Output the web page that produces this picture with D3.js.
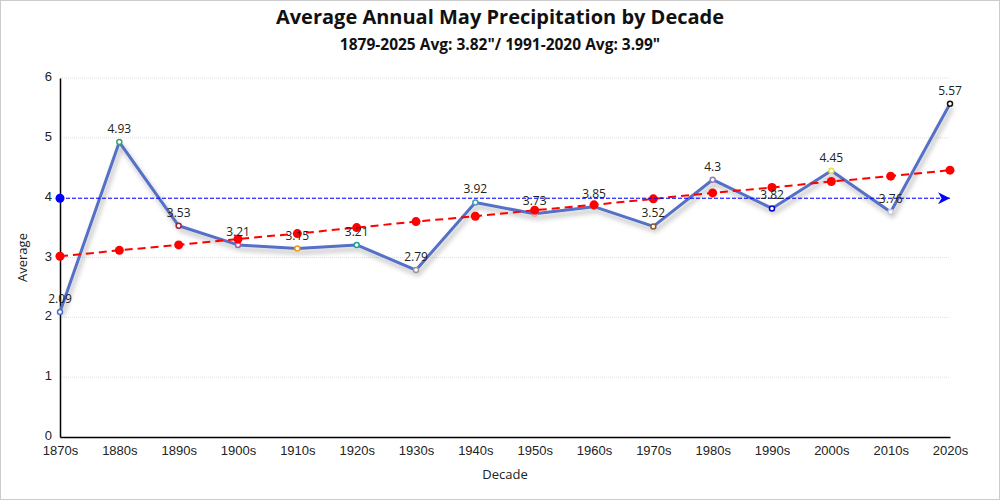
<!DOCTYPE html>
<html>
<head>
<meta charset="utf-8">
<script src="https://cdn.jsdelivr.net/npm/d3@7"></script>
<style>
  body { margin: 0; background: #fff; }
  svg { font-family: "Open Sans", "Noto Sans", sans-serif; }
</style>
</head>
<body>
<div class="svgContainer"></div>
<script>
/* chart data */
var decades = ["1870s", "1880s", "1890s", "1900s", "1910s", "1920s", "1930s", "1940s",
               "1950s", "1960s", "1970s", "1980s", "1990s", "2000s", "2010s", "2020s"];
var averages = [2.09, 4.93, 3.53, 3.21, 3.15, 3.21, 2.79, 3.92,
                3.73, 3.85, 3.52, 4.3, 3.82, 4.45, 3.76, 5.57];
var trend = [3.02, 3.12, 3.21, 3.31, 3.40, 3.50, 3.60, 3.69,
             3.79, 3.88, 3.98, 4.08, 4.17, 4.27, 4.36, 4.46];
var normal = 3.99;
var markerColors = ["#5470c6", "#3ba272", "#a0233b", "#9a60b4", "#f39c12", "#1aa39a", "#999999", "#4a9bb5",
                    "#e8a0b0", "#7fb0e0", "#8b5a2b", "#8e7cc3", "#0000cc", "#e6e04a", "#c8c8e8", "#111111"];
var yTicks = [0, 1, 2, 3, 4, 5, 6];

var width = 1000, height = 500;
var margin = {top: 78, right: 50, bottom: 63, left: 60};

var svg = d3.select(".svgContainer")
  .append("svg")
    .attr("width", width)
    .attr("height", height);

/* frame */
svg.append("rect")
  .attr("x", 0.5).attr("y", 0.5)
  .attr("width", width - 1).attr("height", height - 1)
  .attr("fill", "#fff")
  .attr("stroke", "#cccccc");

var defs = svg.append("defs");
var shadow = defs.append("filter").attr("id", "shadow")
  .attr("x", "-20%").attr("y", "-20%").attr("width", "140%").attr("height", "160%");
shadow.append("feDropShadow")
  .attr("dx", 2).attr("dy", 4).attr("stdDeviation", 2.5)
  .attr("flood-color", "#000").attr("flood-opacity", 0.3);

defs.append("marker")
  .attr("id", "arrow")
  .attr("viewBox", "0 0 10 10")
  .attr("refX", 10).attr("refY", 5)
  .attr("markerWidth", 16).attr("markerHeight", 12)
  .attr("markerUnits", "userSpaceOnUse")
  .attr("orient", "auto")
  .append("path")
    .attr("d", "M0,0 L10,5 L0,10 L3,5 Z")
    .attr("fill", "#0000ff");

var x = d3.scalePoint()
  .domain(decades)
  .range([margin.left, width - margin.right]);

var y = d3.scaleLinear()
  .domain([0, 6])
  .range([height - margin.bottom, margin.top]);

/* grid lines */
svg.append("g")
  .selectAll("line")
  .data(yTicks.slice(1))
  .enter()
    .append("line")
      .attr("x1", margin.left)
      .attr("x2", width - margin.right)
      .attr("y1", function(d) { return y(d); })
      .attr("y2", function(d) { return y(d); })
      .attr("stroke", "#e0e0e0")
      .attr("stroke-dasharray", "1,1");

/* axes */
var yAxis = svg.append("g")
  .attr("transform", "translate(" + margin.left + ",0)")
  .call(d3.axisLeft(y).tickValues(yTicks).tickFormat(d3.format("d")).tickSize(0).tickPadding(8));
yAxis.select(".domain").attr("stroke", "#000").attr("stroke-width", 1.5);
yAxis.selectAll("text").attr("font-size", 13).attr("fill", "#222").attr("dy", "0.2em");

var xAxis = svg.append("g")
  .attr("transform", "translate(0," + (height - margin.bottom) + ")")
  .call(d3.axisBottom(x).tickSize(0).tickPadding(9));
xAxis.select(".domain").attr("stroke", "#000").attr("stroke-width", 1.5);
xAxis.selectAll("text").attr("font-size", 13).attr("fill", "#222");

/* axis titles */
svg.append("text")
  .attr("transform", "translate(27," + y(3) + ") rotate(-90)")
  .attr("text-anchor", "middle")
  .attr("font-size", 13)
  .attr("fill", "#222")
  .text("Average");

svg.append("text")
  .attr("x", (margin.left + width - margin.right) / 2)
  .attr("y", 479)
  .attr("text-anchor", "middle")
  .attr("font-size", 13)
  .attr("fill", "#222")
  .text("Decade");

/* titles */
svg.append("text")
  .attr("x", width / 2).attr("y", 24)
  .attr("text-anchor", "middle")
  .attr("font-size", 20)
  .attr("font-weight", "bold")
  .attr("fill", "#111")
  .text("Average Annual May Precipitation by Decade");

svg.append("text")
  .attr("x", width / 2).attr("y", 50)
  .attr("text-anchor", "middle")
  .attr("font-size", 15.5)
  .attr("font-weight", "bold")
  .attr("fill", "#111")
  .text("1879-2025 Avg: 3.82\"/ 1991-2020 Avg: 3.99\"");

/* data line */
var line = d3.line()
  .x(function(d, i) { return x(decades[i]); })
  .y(function(d) { return y(d); });

svg.append("path")
  .datum(averages)
  .attr("d", line)
  .attr("fill", "none")
  .attr("stroke", "#5470c6")
  .attr("stroke-width", 3)
  .attr("stroke-linejoin", "round")
  .attr("filter", "url(#shadow)");

svg.append("g")
  .selectAll("circle")
  .data(averages)
  .enter()
    .append("circle")
      .attr("cx", function(d, i) { return x(decades[i]); })
      .attr("cy", function(d) { return y(d); })
      .attr("r", 2.5)
      .attr("fill", "#fff")
      .attr("stroke", function(d, i) { return markerColors[i]; })
      .attr("stroke-width", 1.5);

/* trend line */
svg.append("path")
  .datum(trend)
  .attr("d", line)
  .attr("fill", "none")
  .attr("stroke", "#ff0000")
  .attr("stroke-width", 2)
  .attr("stroke-dasharray", "8,5");

svg.append("g")
  .selectAll("circle")
  .data(trend)
  .enter()
    .append("circle")
      .attr("cx", function(d, i) { return x(decades[i]); })
      .attr("cy", function(d) { return y(d); })
      .attr("r", 4.5)
      .attr("fill", "#ff0000");

/* 1991-2020 normal */
svg.append("line")
  .attr("x1", x(decades[0]))
  .attr("x2", x(decades[decades.length - 1]))
  .attr("y1", y(normal))
  .attr("y2", y(normal))
  .attr("stroke", "#0000ff")
  .attr("stroke-width", 1)
  .attr("stroke-dasharray", "4,2")
  .attr("marker-end", "url(#arrow)");

svg.append("circle")
  .attr("cx", x(decades[0]))
  .attr("cy", y(normal))
  .attr("r", 4.5)
  .attr("fill", "#0000ff");

/* value labels */
svg.append("g")
  .selectAll("text")
  .data(averages)
  .enter()
    .append("text")
      .attr("x", function(d, i) { return x(decades[i]); })
      .attr("y", function(d) { return y(d) - 9; })
      .attr("text-anchor", "middle")
      .attr("font-size", 12)
      .attr("fill", "#222")
      .text(function(d) { return d; });
</script>
</body>
</html>
